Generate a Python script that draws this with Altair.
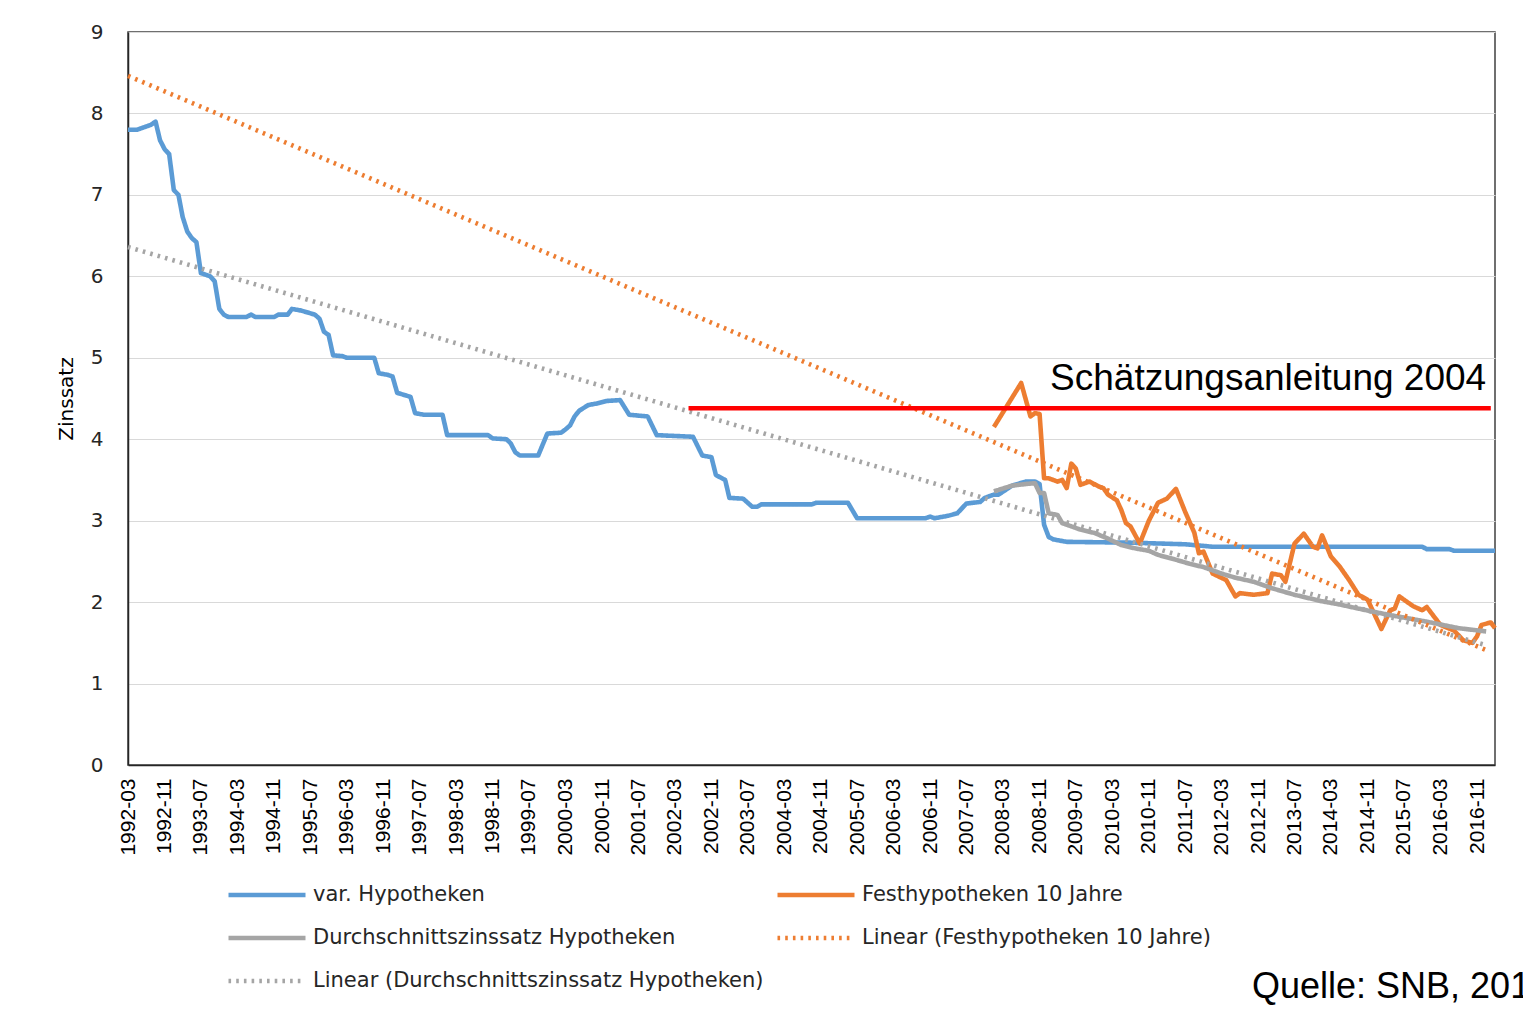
import altair as alt
import pandas as pd

# ---------------- data ----------------
blue_dates = ["1992-03", "1992-05", "1992-08", "1992-09", "1992-10", "1992-11", "1992-12",
              "1993-01", "1993-02", "1993-03", "1993-04", "1993-05", "1993-06", "1993-07",
              "1993-09", "1993-10", "1993-11", "1993-12", "1994-01", "1994-05", "1994-06",
              "1994-07", "1994-11", "1994-12", "1995-02", "1995-03", "1995-05", "1995-08",
              "1995-09", "1995-10", "1995-11", "1995-12", "1996-02", "1996-03", "1996-09",
              "1996-10", "1996-12", "1997-01", "1997-02", "1997-05", "1997-06", "1997-08",
              "1997-12", "1998-01", "1998-10", "1998-11", "1999-02", "1999-03", "1999-04",
              "1999-05", "1999-09", "1999-11", "2000-02", "2000-03", "2000-04", "2000-05",
              "2000-06", "2000-08", "2000-10", "2000-12", "2001-03", "2001-05", "2001-09",
              "2001-11", "2002-07", "2002-09", "2002-11", "2002-12", "2003-02", "2003-03",
              "2003-06", "2003-08", "2003-09", "2003-10", "2004-09", "2004-10", "2005-05",
              "2005-07", "2006-10", "2006-11", "2006-12", "2007-03", "2007-05", "2007-07",
              "2007-10", "2007-11", "2008-01", "2008-02", "2008-05", "2008-08", "2008-10",
              "2008-11", "2008-12", "2009-01", "2009-02", "2009-05", "2010-07", "2011-07",
              "2012-01", "2015-11", "2015-12", "2016-05", "2016-06", "2017-03"]
blue_values = [7.80, 7.80, 7.86, 7.90, 7.67, 7.56, 7.50,
               7.06, 7.00, 6.73, 6.55, 6.47, 6.42, 6.04,
               6.00, 5.94, 5.60, 5.53, 5.50, 5.50, 5.53,
               5.50, 5.50, 5.53, 5.53, 5.60, 5.58, 5.53,
               5.48, 5.32, 5.28, 5.03, 5.02, 5.00, 5.00,
               4.81, 4.79, 4.77, 4.57, 4.52, 4.32, 4.30,
               4.30, 4.05, 4.05, 4.01, 4.00, 3.95, 3.84,
               3.80, 3.80, 4.07, 4.08, 4.12, 4.17, 4.28,
               4.35, 4.42, 4.44, 4.47, 4.48, 4.30, 4.28,
               4.05, 4.03, 3.80, 3.78, 3.56, 3.50, 3.28,
               3.27, 3.17, 3.17, 3.20, 3.20, 3.22, 3.22,
               3.03, 3.03, 3.05, 3.03, 3.06, 3.09, 3.21,
               3.23, 3.28, 3.32, 3.32, 3.43, 3.48, 3.48,
               3.45, 2.95, 2.80, 2.77, 2.74, 2.73, 2.71,
               2.68, 2.68, 2.65, 2.65, 2.63, 2.63]

orange_dates = ["2008-01", "2008-04", "2008-07", "2008-09", "2008-10", "2008-11", "2008-12",
                "2009-01", "2009-03", "2009-04", "2009-05", "2009-06", "2009-07", "2009-08",
                "2009-10", "2009-12", "2010-01", "2010-02", "2010-04", "2010-05", "2010-06",
                "2010-07", "2010-09", "2010-11", "2011-01", "2011-03", "2011-05", "2011-07",
                "2011-09", "2011-10", "2011-11", "2012-01", "2012-04", "2012-06", "2012-07",
                "2012-10", "2013-01", "2013-02", "2013-04", "2013-05", "2013-07", "2013-09",
                "2013-11", "2013-12", "2014-01", "2014-03", "2014-05", "2014-07", "2014-09",
                "2014-11", "2015-02", "2015-04", "2015-05", "2015-06", "2015-09", "2015-11",
                "2015-12", "2016-03", "2016-06", "2016-08", "2016-10", "2016-11", "2016-12",
                "2017-02", "2017-03"]
orange_values = [4.15, 4.42, 4.69, 4.28, 4.32, 4.31, 3.52,
                 3.52, 3.48, 3.50, 3.40, 3.70, 3.64, 3.44,
                 3.48, 3.42, 3.40, 3.32, 3.25, 3.13, 2.97,
                 2.93, 2.72, 3.00, 3.22, 3.27, 3.39, 3.11,
                 2.85, 2.60, 2.62, 2.35, 2.27, 2.07, 2.11,
                 2.09, 2.11, 2.35, 2.33, 2.25, 2.72, 2.84,
                 2.68, 2.66, 2.82, 2.56, 2.43, 2.27, 2.09,
                 2.03, 1.67, 1.90, 1.92, 2.07, 1.95, 1.90,
                 1.94, 1.72, 1.65, 1.53, 1.50, 1.58, 1.72,
                 1.75, 1.68]

gray_dates = ["2008-01", "2008-05", "2008-08", "2008-10", "2008-11", "2008-12", "2009-01",
              "2009-03", "2009-04", "2009-06", "2009-08", "2009-11", "2010-02", "2010-05",
              "2010-08", "2010-11", "2011-01", "2011-05", "2011-08", "2011-11", "2012-03",
              "2012-06", "2012-10", "2013-02", "2013-07", "2014-01", "2014-05", "2014-09",
              "2015-04", "2015-12", "2016-07", "2017-01"]
gray_values = [3.36, 3.43, 3.45, 3.46, 3.34, 3.34, 3.09,
               3.07, 2.97, 2.93, 2.89, 2.85, 2.78, 2.70,
               2.66, 2.63, 2.58, 2.52, 2.47, 2.43, 2.35,
               2.30, 2.25, 2.17, 2.09, 2.01, 1.97, 1.92,
               1.84, 1.76, 1.68, 1.64]

trend_dates = ["1992-03", "2017-01"]
trend_fest_values = [8.46, 1.41]
trend_durch_values = [6.36, 1.47]

ref_start, ref_end, ref_value = "2002-06", "2017-02", 4.38
ref_label = "Schätzungsanleitung 2004"
ref_label_date, ref_label_value = "2017-01", 4.60
source_text = "Quelle: SNB, 2017"

series_names = ["var. Hypotheken", "Festhypotheken 10 Jahre",
                "Durchschnittszinssatz Hypotheken", "Linear (Festhypotheken 10 Jahre)",
                "Linear (Durchschnittszinssatz Hypotheken)"]
series_colors = ["#5B9BD5", "#ED7D31", "#A5A5A5", "#ED7D31", "#A5A5A5"]

tick_labels = ["1992-03", "1992-11", "1993-07", "1994-03", "1994-11", "1995-07", "1996-03",
               "1996-11", "1997-07", "1998-03", "1998-11", "1999-07", "2000-03", "2000-11",
               "2001-07", "2002-03", "2002-11", "2003-07", "2004-03", "2004-11", "2005-07",
               "2006-03", "2006-11", "2007-07", "2008-03", "2008-11", "2009-07", "2010-03",
               "2010-11", "2011-07", "2012-03", "2012-11", "2013-07", "2014-03", "2014-11",
               "2015-07", "2016-03", "2016-11"]
y_ticks = [0, 1, 2, 3, 4, 5, 6, 7, 8, 9]

# ---------------- tables ----------------
def frame(name, dates, values):
    return pd.DataFrame({"date": [d + "-01" for d in dates], "value": values, "series": name})

df = pd.concat([
    frame(series_names[0], blue_dates, blue_values),
    frame(series_names[1], orange_dates, orange_values),
    frame(series_names[2], gray_dates, gray_values),
    frame(series_names[3], trend_dates, trend_fest_values),
    frame(series_names[4], trend_dates, trend_durch_values),
], ignore_index=True)

ref_df = pd.DataFrame({"start": [ref_start + "-01"], "end": [ref_end + "-01"], "value": [ref_value]})
lbl_df = pd.DataFrame({"date": [ref_label_date + "-01"], "value": [ref_label_value], "t": [ref_label]})
src_df = pd.DataFrame({"t": [source_text]})


def dt(s):
    return alt.DateTime(year=int(s[:4]), month=int(s[5:7]), date=1, utc=True)


x_scale = alt.Scale(type="utc", domain=[dt("1992-03"), dt("2017-03")])
x_axis = alt.Axis(values=[dt(s) for s in tick_labels],
                  labelExpr="utcFormat(datum.value, '%Y-%m')",
                  labelAngle=270, labelFont="Liberation Sans", labelFontSize=21,
                  labelColor="#000000", labelPadding=13, ticks=False, grid=False,
                  domainColor="#262626", domainWidth=1.5, title=None, labelOverlap=False,
                  labelFlush=False)
y_scale = alt.Scale(domain=[0, 9], nice=False, zero=True)
y_axis = alt.Axis(values=y_ticks, title="Zinssatz", labelFont="DejaVu Sans", labelFontSize=20,
                  labelColor="#262626", labelPadding=25, ticks=False, grid=True,
                  gridColor="#D9D9D9", gridWidth=1.2, domainColor="#262626", domainWidth=1.5,
                  titleFont="DejaVu Sans", titleFontSize=20, titleFontWeight="normal",
                  titleColor="#000000", titlePadding=14)


def X(field):
    return alt.X(field, type="temporal", scale=x_scale, axis=x_axis)


def Y(field):
    return alt.Y(field, type="quantitative", scale=y_scale, axis=y_axis)


legend = alt.Legend(title=None, orient="none", legendX=98, legendY=852, columns=2,
                    direction="horizontal",
                    symbolType="stroke", symbolSize=5929, labelFont="DejaVu Sans",
                    labelFontSize=21, labelColor="#262626", labelOffset=5,
                    labelLimit=700, rowPadding=21, columnPadding=11, clipHeight=22)

color = alt.Color("series:N", scale=alt.Scale(domain=series_names, range=series_colors), legend=legend)
dash = alt.StrokeDash("series:N", scale=alt.Scale(domain=series_names,
                                                  range=[[1, 0], [1, 0], [1, 0], [2.6, 5.1], [2.6, 5.1]]),
                      legend=legend)
width = alt.StrokeWidth("series:N", scale=alt.Scale(domain=series_names,
                                                    range=[4.6, 4.6, 4.6, 2.6, 2.6]),
                        legend=legend)

layers = []
for name in series_names:
    layers.append(
        alt.Chart(df).transform_filter(alt.datum.series == name)
        .mark_line(strokeJoin="round")
        .encode(x=X("date"), y=Y("value"), color=color, strokeDash=dash, strokeWidth=width,
                order=alt.Order("date:T"))
    )

ref_rule = alt.Chart(ref_df).mark_rule(color="#FF0000", strokeWidth=4.7).encode(
    x=X("start"), x2="end:T", y=Y("value"))

ref_text = alt.Chart(lbl_df).mark_text(align="right", baseline="alphabetic",
                                       font="Liberation Sans", fontSize=37,
                                       color="#000000").encode(
    x=X("date"), y=Y("value"), text="t:N")

src = alt.Chart(src_df).mark_text(align="left", baseline="alphabetic",
                                  font="Liberation Sans", fontSize=36,
                                  color="#000000").encode(
    x=alt.value(1124), y=alt.value(966), text="t:N")

chart = alt.layer(*layers, ref_rule, ref_text, src).properties(
    width=1367, height=733,
    autosize=alt.AutoSizeParams(type="none"),
    padding={"left": 120, "top": 24, "right": 28, "bottom": 240},
    background="#FFFFFF",
).configure_view(stroke="#404040", strokeWidth=1.5)

chart.save("out.html", embed_options={"renderer": "svg", "actions": False})
